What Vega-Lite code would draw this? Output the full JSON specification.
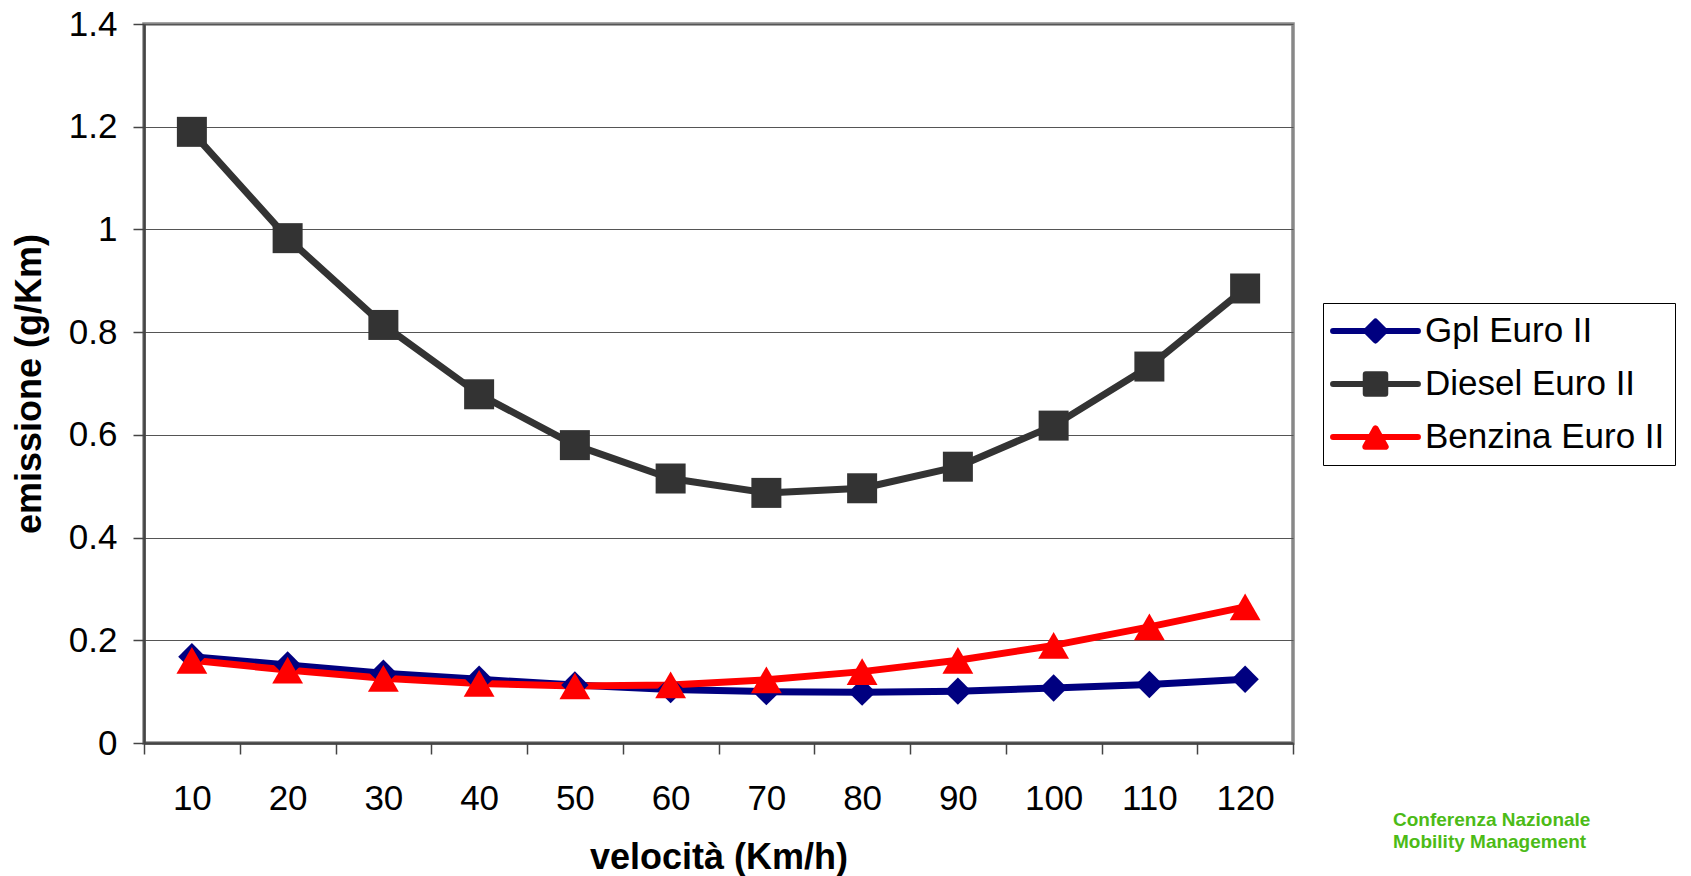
{
  "$schema": "https://vega.github.io/schema/vega-lite/v6.json",
  "autosize": {"type": "none"},
  "width": 1149,
  "height": 719,
  "padding": {"left": 144, "top": 24, "right": 398, "bottom": 133},
  "background": "white",
  "config": {
    "font": "Liberation Sans",
    "view": {"stroke": "#888888", "strokeWidth": 3.5},
    "axis": {
      "labelFont": "Liberation Sans",
      "titleFont": "Liberation Sans",
      "labelFontSize": 35,
      "labelColor": "#000000",
      "titleFontSize": 36,
      "titleFontWeight": "bold",
      "titleColor": "#000000",
      "domainColor": "#444444",
      "domainWidth": 2.5,
      "tickColor": "#444444",
      "tickWidth": 1.5,
      "tickSize": 11,
      "gridColor": "#555555",
      "gridWidth": 1.2
    },
    "legend": {"labelFont": "Liberation Sans"}
  },
  "title": {
    "text": ["Conferenza Nazionale", "Mobility Management"],
    "orient": "bottom",
    "anchor": "end",
    "frame": "group",
    "align": "left",
    "dx": 100,
    "dy": -68,
    "color": "#4CBB17",
    "fontSize": 19,
    "fontWeight": "bold",
    "font": "Liberation Sans",
    "lineHeight": 22
  },
  "data": {
    "values": [
      {"v": 10, "serie": "Gpl Euro II", "e": 0.168},
      {"v": 20, "serie": "Gpl Euro II", "e": 0.152},
      {"v": 30, "serie": "Gpl Euro II", "e": 0.136},
      {"v": 40, "serie": "Gpl Euro II", "e": 0.124},
      {"v": 50, "serie": "Gpl Euro II", "e": 0.113},
      {"v": 60, "serie": "Gpl Euro II", "e": 0.104},
      {"v": 70, "serie": "Gpl Euro II", "e": 0.100},
      {"v": 80, "serie": "Gpl Euro II", "e": 0.099},
      {"v": 90, "serie": "Gpl Euro II", "e": 0.101},
      {"v": 100, "serie": "Gpl Euro II", "e": 0.107},
      {"v": 110, "serie": "Gpl Euro II", "e": 0.114},
      {"v": 120, "serie": "Gpl Euro II", "e": 0.124},
      {"v": 10, "serie": "Diesel Euro II", "e": 1.190},
      {"v": 20, "serie": "Diesel Euro II", "e": 0.983},
      {"v": 30, "serie": "Diesel Euro II", "e": 0.814},
      {"v": 40, "serie": "Diesel Euro II", "e": 0.679},
      {"v": 50, "serie": "Diesel Euro II", "e": 0.580},
      {"v": 60, "serie": "Diesel Euro II", "e": 0.515},
      {"v": 70, "serie": "Diesel Euro II", "e": 0.487},
      {"v": 80, "serie": "Diesel Euro II", "e": 0.496},
      {"v": 90, "serie": "Diesel Euro II", "e": 0.538},
      {"v": 100, "serie": "Diesel Euro II", "e": 0.618},
      {"v": 110, "serie": "Diesel Euro II", "e": 0.733},
      {"v": 120, "serie": "Diesel Euro II", "e": 0.885},
      {"v": 10, "serie": "Benzina Euro II", "e": 0.161},
      {"v": 20, "serie": "Benzina Euro II", "e": 0.142},
      {"v": 30, "serie": "Benzina Euro II", "e": 0.126},
      {"v": 40, "serie": "Benzina Euro II", "e": 0.116},
      {"v": 50, "serie": "Benzina Euro II", "e": 0.111},
      {"v": 60, "serie": "Benzina Euro II", "e": 0.113},
      {"v": 70, "serie": "Benzina Euro II", "e": 0.123},
      {"v": 80, "serie": "Benzina Euro II", "e": 0.139},
      {"v": 90, "serie": "Benzina Euro II", "e": 0.161},
      {"v": 100, "serie": "Benzina Euro II", "e": 0.190},
      {"v": 110, "serie": "Benzina Euro II", "e": 0.226},
      {"v": 120, "serie": "Benzina Euro II", "e": 0.265}
    ]
  },
  "encoding": {
    "x": {
      "field": "v",
      "type": "ordinal",
      "scale": {"type": "band", "paddingInner": 0, "paddingOuter": 0},
      "axis": {
        "title": "velocità (Km/h)",
        "labelAngle": 0,
        "tickBand": "extent",
        "labelPadding": 27,
        "titlePadding": 24,
        "grid": false
      }
    },
    "y": {
      "field": "e",
      "type": "quantitative",
      "scale": {"domain": [0, 1.4], "nice": false, "zero": true},
      "axis": {
        "title": "emissione (g/Km)",
        "values": [0, 0.2, 0.4, 0.6, 0.8, 1, 1.2, 1.4],
        "format": "~g",
        "labelPadding": 16,
        "titlePadding": 20,
        "grid": true
      }
    },
    "color": {
      "field": "serie",
      "type": "nominal",
      "scale": {
        "domain": ["Gpl Euro II", "Diesel Euro II", "Benzina Euro II"],
        "range": ["#000080", "#333333", "#FF0000"]
      },
      "legend": {
        "title": null,
        "orient": "none",
        "legendX": 1179,
        "legendY": 279,
        "padding": 10,
        "strokeColor": "#000000",
        "fillColor": "#FFFFFF",
        "labelFontSize": 35,
        "labelColor": "#000000",
        "labelLimit": 500,
        "labelOffset": 31.5,
        "symbolSize": 900,
        "symbolOffset": 24.5,
        "symbolStrokeWidth": 6,
        "rowPadding": 17,
        "encode": {
          "symbols": {
            "update": {
              "shape": {"signal": "datum.value === 'Gpl Euro II' ? 'M-2.83,0L2.83,0M0,-0.63L0.63,0L0,0.63L-0.63,0Z' : datum.value === 'Diesel Euro II' ? 'M-2.83,0L2.83,0M-0.65,-0.65L0.65,-0.65L0.65,0.65L-0.65,0.65Z' : 'M-2.83,0L2.83,0M0,-0.58L0.68,0.65L-0.68,0.65Z'"},
              "stroke": {"signal": "scale('color', datum.value)"},
              "fill": {"signal": "scale('color', datum.value)"},
              "strokeWidth": {"value": 6},
              "strokeCap": {"value": "round"},
              "strokeJoin": {"value": "round"},
              "size": {"value": 900},
              "opacity": {"value": 1},
              "fillOpacity": {"value": 1},
              "strokeOpacity": {"value": 1}
            }
          }
        }
      }
    }
  },
  "layer": [
    {
      "mark": {"type": "line", "strokeWidth": 7, "strokeJoin": "round", "strokeCap": "round"},
      "encoding": {"detail": {"field": "serie"}}
    },
    {
      "transform": [{"filter": "datum.serie === 'Gpl Euro II'"}],
      "mark": {"type": "point", "filled": true, "opacity": 1, "shape": "diamond", "size": 750}
    },
    {
      "transform": [{"filter": "datum.serie === 'Diesel Euro II'"}],
      "mark": {"type": "point", "filled": true, "opacity": 1, "shape": "square", "size": 900}
    },
    {
      "transform": [{"filter": "datum.serie === 'Benzina Euro II'"}],
      "mark": {"type": "point", "filled": true, "opacity": 1, "shape": "triangle-up", "size": 950}
    }
  ]
}
